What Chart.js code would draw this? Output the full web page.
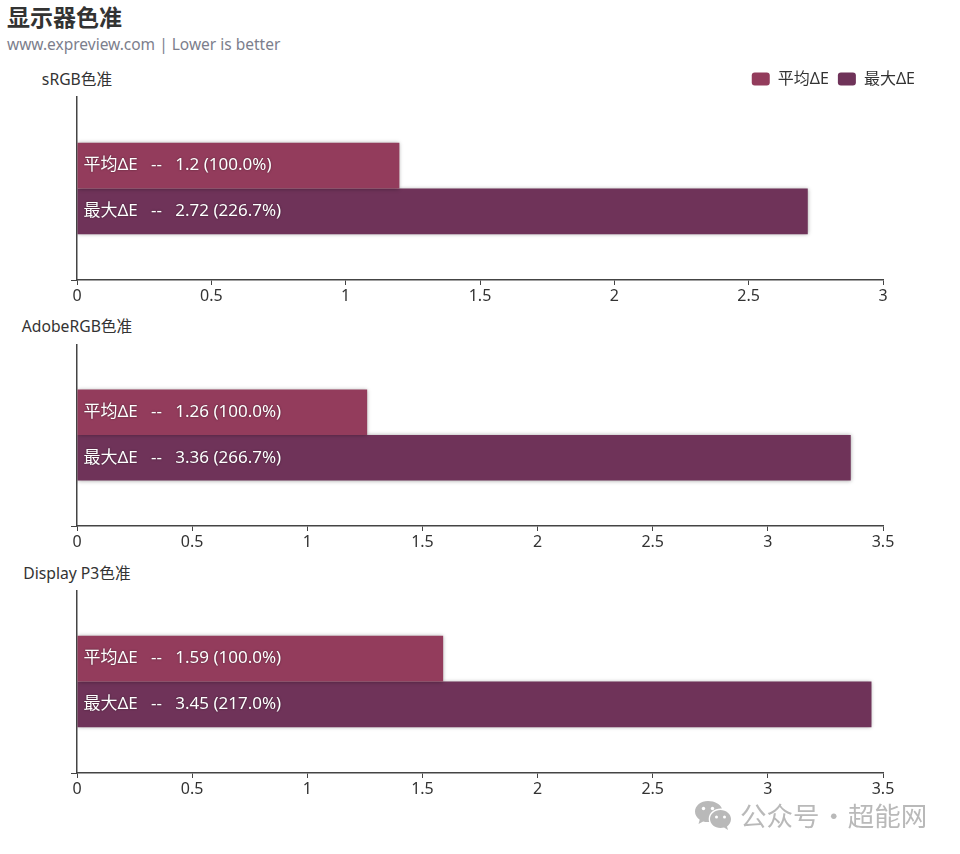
<!DOCTYPE html>
<html lang="zh-CN">
<head>
  <meta charset="UTF-8" />
  <title>显示器色准</title>
  <script src="https://cdn.jsdelivr.net/npm/chart.js"></script>
  <style>
    html, body { margin: 0; padding: 0; background: #fff; }
    body { width: 960px; height: 854px; position: relative; overflow: hidden; font-family: "Noto Sans", "Noto Sans CJK SC", sans-serif; }
    canvas { position: absolute; left: 0; }
    .txt { position: absolute; white-space: pre; line-height: 1; }
    #title { left: 7px; top: 5px; font-size: 23px; font-weight: 700; color: #333; font-family: "Noto Sans CJK SC", sans-serif; }
    #subtitle { left: 7px; top: 37px; font-size: 15.5px; color: #7c7e8c; }
    .panel { font-size: 15.7px; color: #333; transform: translateX(-50%); }
    #mark { left: 740px; top: 802px; font-size: 26.5px; word-spacing: -5px; color: #b9b9b9; font-family: "Noto Sans CJK SC", sans-serif; }
    #wechat { position: absolute; left: 694px; top: 799px; }
  </style>
</head>
<body>
  <div class="txt" id="title">显示器色准</div>
  <div class="txt" id="subtitle">www.expreview.com | Lower is better</div>

  <div class="txt panel" style="left:77px;top:72px">sRGB色准</div>
  <div class="txt panel" style="left:77px;top:319px">AdobeRGB色准</div>
  <div class="txt panel" style="left:77px;top:566px">Display P3色准</div>

  <canvas id="chartSrgb" width="960" height="248" style="top:62px"></canvas>
  <canvas id="chartAdobe" width="960" height="212" style="top:344px"></canvas>
  <canvas id="chartP3" width="960" height="213" style="top:590px"></canvas>

  <svg id="wechat" width="38" height="34" viewBox="0 0 38 34">
    <path fill="#b9b9b9" d="M14 2C6.8 2 1 6.7 1 12.6c0 3.3 1.8 6.200 4.700 8.200L4.500 25l4.600-2.500c1.500.4 3 .6 4.900.6.400 0 .8 0 1.200-.1-.3-1-.5-2-.5-3 0-5.900 5.400-10.500 12-10.500.4 0 .8 0 1.200.1C26.500 5.200 20.700 2 14 2z"/>
    <path fill="#b9b9b9" d="M37 20c0-5-4.800-9-10.500-9S16 15 16 20s4.800 9 10.500 9c1.300 0 2.500-.2 3.600-.5l3.900 2.500-1-3.600c2.400-1.700 4-4.300 4-7.400z"/>
    <circle cx="9.500" cy="9.500" r="1.700" fill="#fff"/><circle cx="18.500" cy="9.500" r="1.700" fill="#fff"/>
    <circle cx="22.500" cy="18" r="1.500" fill="#fff"/><circle cx="30.500" cy="18" r="1.500" fill="#fff"/>
  </svg>
  <div class="txt" id="mark">公众号 · 超能网</div>

  <script>
    const seriesNames = ['平均ΔE', '最大ΔE'];
    const srgbValues = [1.2, 2.72];
    const adobeValues = [1.26, 3.36];
    const p3Values = [1.59, 3.45];
    const srgbTicks = [0, 0.5, 1, 1.5, 2, 2.5, 3];
    const wideTicks = [0, 0.5, 1, 1.5, 2, 2.5, 3, 3.5];

    const seriesColors = ['#933c5c', '#6f3359'];
    const axisColor = '#444';
    const fontFamily = '"Noto Sans", "Noto Sans CJK SC", sans-serif';

    // bar labels: no datalabels plugin here, draw them from the bar elements
    const barLabels = {
      id: 'barLabels',
      beforeDatasetsDraw(chart) {
        chart.ctx.save();
        chart.ctx.shadowColor = 'rgba(0,0,0,0.35)';
        chart.ctx.shadowBlur = 4;
      },
      afterDatasetsDraw(chart) {
        const ctx = chart.ctx;
        ctx.restore();
        const base = chart.data.datasets[0].data[0];
        ctx.save();
        ctx.font = '17px ' + fontFamily;
        ctx.fillStyle = '#fff';
        ctx.textBaseline = 'middle';
        ctx.shadowColor = 'rgba(0,0,0,0.5)';
        ctx.shadowBlur = 2;
        chart.data.datasets.forEach((ds, i) => {
          const bar = chart.getDatasetMeta(i).data[0];
          const pct = (ds.data[0] / base * 100).toFixed(1);
          ctx.fillText(`${ds.label}   --   ${ds.data[0]} (${pct}%)`, bar.base + 6, bar.y);
        });
        ctx.restore();
      }
    };

    function criarPainel(id, valores, ticks, comLegenda) {
      new Chart(document.getElementById(id), {
        type: 'bar',
        data: {
          labels: [''],
          datasets: seriesNames.map((nome, i) => ({
            label: nome,
            data: [valores[i]],
            backgroundColor: seriesColors[i],
            categoryPercentage: 0.5,
            barPercentage: 1
          }))
        },
        options: {
          indexAxis: 'y',
          responsive: false,
          animation: false,
          layout: { padding: { right: 36 } },
          scales: {
            x: {
              min: 0,
              max: ticks[ticks.length - 1],
              afterBuildTicks(scale) { scale.ticks = ticks.map(v => ({ value: v })); },
              afterFit(scale) {
                scale.height = 30;
                scale.paddingRight = 77;
                scale.paddingLeft = 0;
              },
              border: { color: axisColor, width: 1.5 },
              grid: { drawOnChartArea: false, tickLength: 5, color: axisColor },
              ticks: {
                color: '#333',
                font: { size: 16, family: fontFamily },
                padding: 2,
                maxRotation: 0,
                autoSkip: false,
                callback: v => String(v)
              }
            },
            y: {
              afterFit(scale) { scale.width = 77; },
              border: { color: axisColor, width: 1.5 },
              grid: {
                offset: true,
                drawOnChartArea: false,
                tickLength: 6,
                color: c => (c.index === 0 ? 'rgba(0,0,0,0)' : axisColor)
              },
              ticks: { display: false }
            }
          },
          plugins: {
            tooltip: { enabled: false },
            legend: {
              display: comLegenda,
              position: 'top',
              align: 'end',
              labels: {
                boxWidth: 18,
                boxHeight: 13,
                padding: 9,
                color: '#333',
                font: { size: 16, family: fontFamily },
                useBorderRadius: true,
                borderRadius: 3
              }
            }
          }
        },
        plugins: [barLabels]
      });
    }

    criarPainel('chartSrgb', srgbValues, srgbTicks, true);
    criarPainel('chartAdobe', adobeValues, wideTicks, false);
    criarPainel('chartP3', p3Values, wideTicks, false);
  </script>
</body>
</html>
